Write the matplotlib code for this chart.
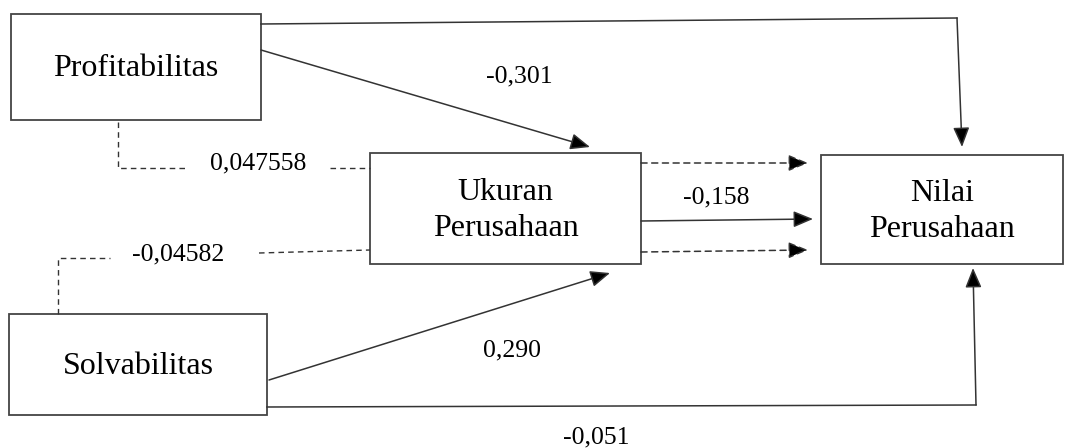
import matplotlib
matplotlib.use("Agg")
import matplotlib.pyplot as plt
from matplotlib.patches import Rectangle

# ---- data ----
node_names = ["Profitabilitas", "Solvabilitas", "Ukuran\nPerusahaan", "Nilai\nPerusahaan"]
path_names = ["Prof->Ukuran", "Ukuran->Nilai", "Solv->Ukuran", "Solv->Nilai", "Prof-indirect", "Solv-indirect"]
path_values = [-0.301, -0.158, 0.290, -0.051, 0.047558, -0.04582]
path_decimals = [3, 3, 3, 3, 6, 5]

def fmt(v, d):
    return f"{v:.{d}f}".replace(".", ",")

labels = [fmt(v, d) for v, d in zip(path_values, path_decimals)]

# ---- layout (pixel space) ----
W, H = 1065, 448
fig = plt.figure(figsize=(W / 100, H / 100), dpi=100)
ax = fig.add_axes([0, 0, 1, 1])
ax.set_xlim(0, W)
ax.set_ylim(H, 0)
ax.axis("off")

FONT = "Liberation Serif"
LC = "#333333"
BC = "#444444"

boxes = [
    (11, 14, 250, 106),    # Profitabilitas
    (9, 314, 258, 101),    # Solvabilitas
    (370, 153, 271, 111),  # Ukuran
    (821, 155, 242, 109),  # Nilai
]
for (x, y, w, h), name in zip(boxes, node_names):
    ax.add_patch(Rectangle((x, y), w, h, fill=False, edgecolor=BC, lw=1.3))
    ax.text(x + w / 2, y + h / 2 + 2, name, ha="center", va="center",
            fontsize=23, family=FONT, color="black", linespacing=1.28)

AST = "-|>,head_length=0.6,head_width=0.25"

def arrow(p0, p1, dashed=False):
    ax.annotate("", xy=p1, xytext=p0,
                arrowprops=dict(arrowstyle=AST, mutation_scale=20, color=LC, lw=1.1,
                                linestyle=(0, (4, 3)) if dashed else "-",
                                shrinkA=0, shrinkB=0, fc="black", ec=LC))

def dline(xs, ys):
    ax.plot(xs, ys, color=LC, lw=1.0, linestyle=(0, (4, 3)))

# Profitabilitas -> Nilai (elbow over top)
ax.plot([261, 957], [24, 18], color=LC, lw=1.1)
arrow((957, 18), (962, 147))
# Profitabilitas -> Ukuran
arrow((261, 50), (590, 147))
# Solvabilitas -> Ukuran
arrow((269, 380), (610, 273))
# Solvabilitas -> Nilai (elbow under)
ax.plot([267, 976], [407, 405], color=LC, lw=1.1)
arrow((976, 405), (973, 268))
# Ukuran -> Nilai
arrow((641, 163), (808, 163), dashed=True)
arrow((641, 221), (813, 219))
arrow((641, 252), (808, 250), dashed=True)

# Indirect dashed paths
dline([118, 118, 186], [122, 168, 168])
dline([330, 370], [168, 168])
dline([58, 58, 110], [314, 258, 258])
dline([259, 370], [253, 250])

# Coefficient labels
label_pos = [(519, 76), (716, 197), (512, 350), (596, 437), (258, 163), (178, 254)]
for (x, y), t in zip(label_pos, labels):
    ax.text(x, y, t, ha="center", va="center", fontsize=18.5, family=FONT, color="black")

fig.savefig("out.png", dpi=100, facecolor="white")
